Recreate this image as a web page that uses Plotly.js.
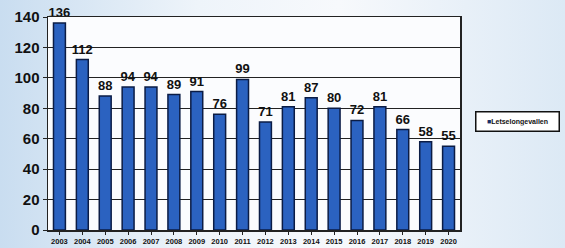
<!DOCTYPE html>
<html><head><meta charset="utf-8">
<script src="https://cdn.plot.ly/plotly-3.0.1.min.js"></script>
<style>html,body{margin:0;padding:0;}#c{width:565px;height:248px;background:linear-gradient(90deg,#c9ddf0 0%,#eef4fa 35%,#f7f9fc 60%,#dce9f5 100%);}</style>
</head><body><div id="c"></div>
<script>
const years = ['2003','2004','2005','2006','2007','2008','2009','2010','2011','2012','2013','2014','2015','2016','2017','2018','2019','2020'];
const accidents = [136,112,88,94,94,89,91,76,99,71,81,87,80,72,81,66,58,55];
const seriesName = 'Letselongevallen';
const yTicks = [0,20,40,60,80,100,120,140];

Plotly.newPlot('c', [{
  type: 'bar', x: years, y: accidents, name: seriesName,
  text: accidents.map(String), textposition: 'outside', cliponaxis: false, constraintext: 'none',
  textfont: {family: 'Liberation Sans, Arial', size: 13, color: '#111', weight: 'bold'},
  marker: {color: '#2b62c0', line: {color: '#0b1c45', width: 1.5}},
  width: 0.52, showlegend: false
}], {
  width: 565, height: 248,
  margin: {l: 48, r: 105, t: 17, b: 18, pad: 0},
  paper_bgcolor: 'rgba(0,0,0,0)', plot_bgcolor: '#fbfcfe',
  font: {family: 'Liberation Sans, Arial', color: '#111'},
  xaxis: {type: 'category', tickfont: {size: 7.5, weight: 'bold'}, showline: true, linecolor: '#222', linewidth: 1.5, mirror: true, ticks: 'outside', ticklen: 3, tickcolor: '#222', showgrid: false},
  yaxis: {range: [0, 140], tickvals: yTicks, tickfont: {size: 15, weight: 'bold'}, showline: true, linecolor: '#222', linewidth: 1.5, mirror: true, ticks: 'outside', ticklen: 4, tickcolor: '#222', gridcolor: '#222', gridwidth: 1, zeroline: false},
  annotations: [{
    xref: 'paper', yref: 'paper', x: 1.036, y: 0.51, xanchor: 'left', yanchor: 'middle',
    text: '<span style="color:#1a2f66">■</span>' + seriesName, showarrow: false,
    font: {size: 7, weight: 'bold', color: '#111'},
    bordercolor: '#111', borderwidth: 1.5, borderpad: 5, bgcolor: '#fff', width: 72
  }],
  bargap: 0.5
}, {staticPlot: true});
</script></body></html>
